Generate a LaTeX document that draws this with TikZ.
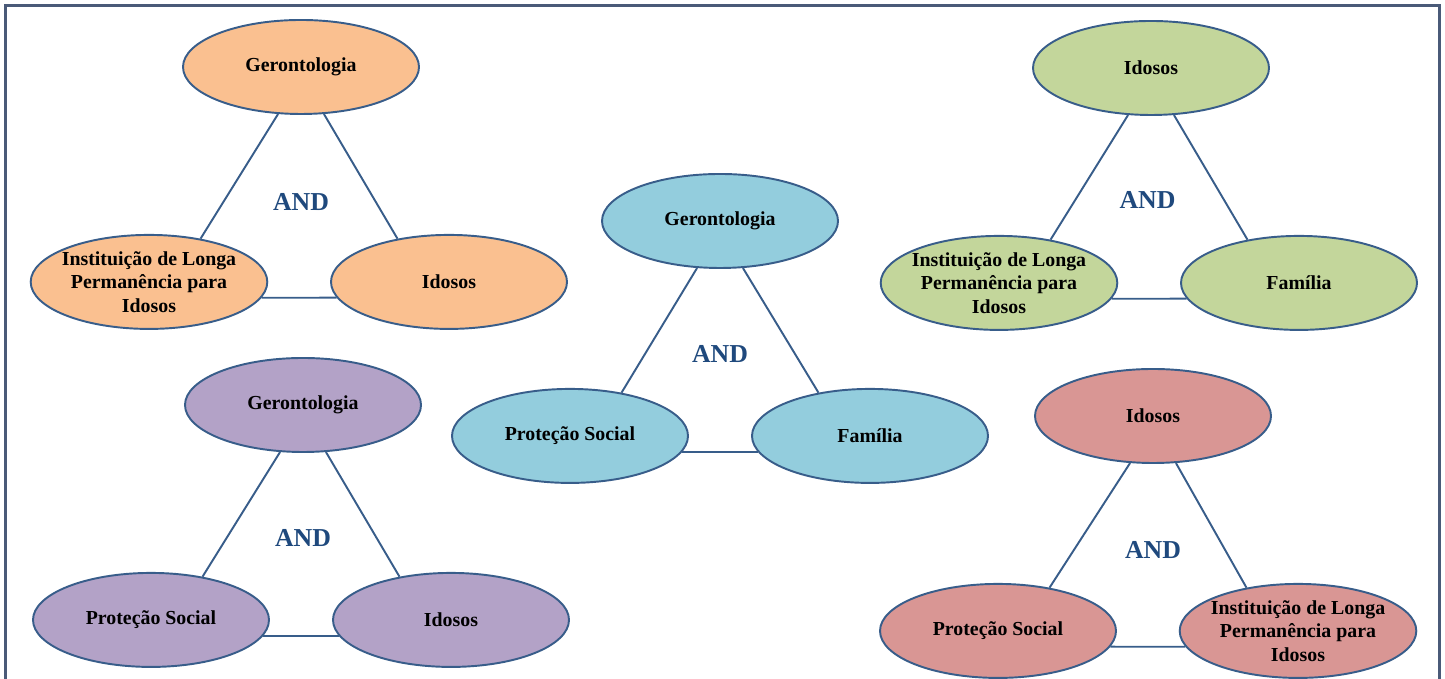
\documentclass[tikz,border=0pt]{standalone}
\usepackage{fontspec}
\setmainfont{Liberation Serif}
\usepackage{xcolor}
\usepackage{tikz}
\usetikzlibrary{positioning,shapes.geometric}
\definecolor{ovalorange}{HTML}{FAC090}
\definecolor{ovalgreen}{HTML}{C3D69B}
\definecolor{ovalblue}{HTML}{93CDDD}
\definecolor{ovalpurple}{HTML}{B3A2C7}
\definecolor{ovalred}{HTML}{D99694}
\definecolor{ovalline}{HTML}{385D8A}
\definecolor{andblue}{HTML}{1F497D}
\definecolor{framegray}{HTML}{4A5A78}

\begin{document}
\begin{tikzpicture}[
  oval/.style={
    ellipse, draw=ovalline, line width=1.1pt, minimum width=4.72cm, minimum height=1.88cm,
    inner xsep=-2pt, inner ysep=0pt, align=center, font=\bfseries\fontsize{11.3}{13.3}\selectfont
  },
  andlabel/.style={font=\bfseries\fontsize{14.7}{16}\selectfont, text=andblue, inner sep=0pt},
  link/.style={draw=ovalline, line width=1.1pt}
]
  \useasboundingbox (0,0) rectangle (28.9,13.58);
  % Outer frame (open at the bottom edge)
  \draw[framegray, line width=1.7pt] (0.11,-0.5) -- (0.11,13.46) -- (28.79,13.46) -- (28.79,-0.5);

  % Group 1: Gerontologia / ILPI / Idosos (top left)
  \node[oval, fill=ovalorange] (orangetop) at (6.02,12.24) {Gerontologia};
  \node[oval, fill=ovalorange, below=2.38cm of orangetop, xshift=-3.04cm] (orangeleft) {Instituição de Longa\\Permanência para\\Idosos};
  \node[oval, fill=ovalorange, below=2.38cm of orangetop, xshift=2.96cm] (orangeright) {Idosos};
  \node[andlabel, below=1.57cm of orangetop] (orangeand) {AND};
  \draw[link] (orangetop.244) -- (orangeleft.40);
  \draw[link] (orangetop.296) -- (orangeright.140);
  \draw[link] (orangeleft.-8) -- (orangeright.188);

  % Group 2: Idosos / ILPI / Familia (top right)
  \node[oval, fill=ovalgreen] (greentop) at (23.02,12.22) {Idosos};
  \node[oval, fill=ovalgreen, below=2.38cm of greentop, xshift=-3.04cm] (greenleft) {Instituição de Longa\\Permanência para\\Idosos};
  \node[oval, fill=ovalgreen, below=2.38cm of greentop, xshift=2.96cm] (greenright) {Família};
  \node[andlabel, below=1.5cm of greentop, xshift=-2pt] (greenand) {AND};
  \draw[link] (greentop.244) -- (greenleft.40);
  \draw[link] (greentop.296) -- (greenright.140);
  \draw[link] (greenleft.-8) -- (greenright.188);

  % Group 3: Gerontologia / Protecao Social / Familia (centre)
  \node[oval, fill=ovalblue] (bluetop) at (14.40,9.16) {Gerontologia};
  \node[oval, fill=ovalblue, below=2.38cm of bluetop, xshift=-3.0cm] (blueleft) {Proteção Social};
  \node[oval, fill=ovalblue, below=2.38cm of bluetop, xshift=3.0cm] (blueright) {Família};
  \node[andlabel, below=1.53cm of bluetop] (blueand) {AND};
  \draw[link] (bluetop.244) -- (blueleft.40);
  \draw[link] (bluetop.296) -- (blueright.140);
  \draw[link] (blueleft.-8) -- (blueright.188);

  % Group 4: Gerontologia / Protecao Social / Idosos (bottom left)
  \node[oval, fill=ovalpurple] (purpletop) at (6.06,5.48) {Gerontologia};
  \node[oval, fill=ovalpurple, below=2.38cm of purpletop, xshift=-3.04cm] (purpleleft) {Proteção Social};
  \node[oval, fill=ovalpurple, below=2.38cm of purpletop, xshift=2.96cm] (purpleright) {Idosos};
  \node[andlabel, below=1.53cm of purpletop] (purpleand) {AND};
  \draw[link] (purpletop.244) -- (purpleleft.40);
  \draw[link] (purpletop.296) -- (purpleright.140);
  \draw[link] (purpleleft.-8) -- (purpleright.188);

  % Group 5: Idosos / Protecao Social / ILPI (bottom right)
  \node[oval, fill=ovalred] (redtop) at (23.06,5.26) {Idosos};
  \node[oval, fill=ovalred, below=2.38cm of redtop, xshift=-3.1cm] (redleft) {Proteção Social};
  \node[oval, fill=ovalred, below=2.38cm of redtop, xshift=2.9cm] (redright) {Instituição de Longa\\Permanência para\\Idosos};
  \node[andlabel, below=1.55cm of redtop] (redand) {AND};
  \draw[link] (redtop.244) -- (redleft.40);
  \draw[link] (redtop.296) -- (redright.140);
  \draw[link] (redleft.-8) -- (redright.188);
\end{tikzpicture}
\end{document}
